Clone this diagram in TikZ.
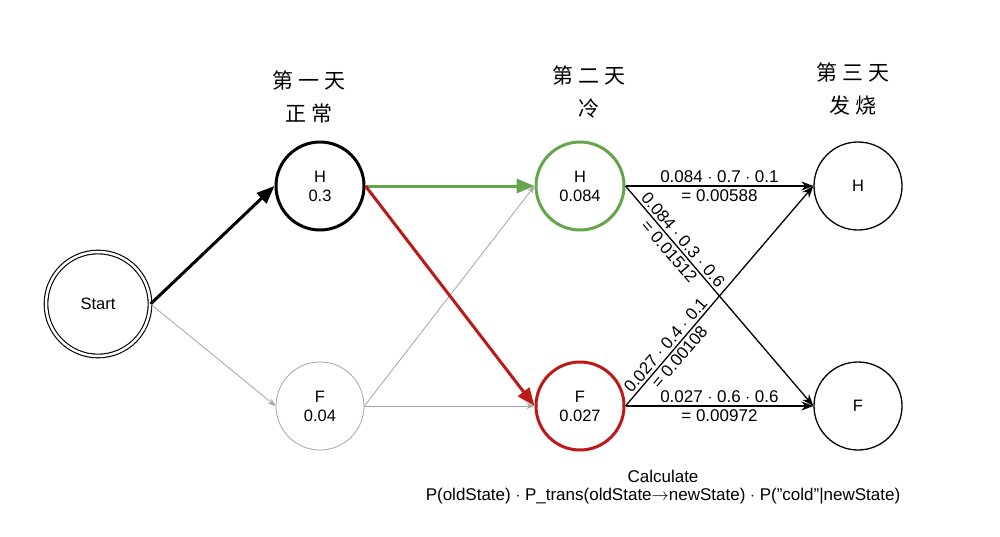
\documentclass[tikz,border=0pt]{standalone}
\usepackage{fontspec}
\setmainfont{Liberation Sans}
\newfontfamily\cjk{Noto Sans CJK SC}
\usetikzlibrary{arrows.meta}
\definecolor{hgreen}{RGB}{100,165,75}
\definecolor{hred}{RGB}{190,25,25}
\definecolor{lgray}{RGB}{165,165,165}
\tikzset{
  st/.style={circle, minimum size=88pt, inner sep=0pt, align=center, font=\fontsize{16.5}{19}\selectfont},
  head/.style={align=center, font=\cjk\fontsize{21}{33}\selectfont},
  lbl/.style={font=\fontsize{17}{19}\selectfont, inner sep=2.5pt},
  thin/.style={draw=lgray, line width=0.8pt, -{Stealth[length=8pt,width=6pt]}},
  calc/.style={draw=black, line width=1.3pt, -{Stealth[length=12pt,width=9pt]}},
  heavy/.style={line width=3pt, -{Triangle[length=18pt,width=14pt]}}
}
\begin{document}
\begin{tikzpicture}[x=1pt,y=-1pt]
\useasboundingbox[fill=white] (0,0) rectangle (1000,536);
% nodes
\node[st, minimum size=104pt, draw=black, double, double distance=2.5pt, line width=1.1pt] (start) at (98,304) {Start};
\node[st, draw=black, line width=3pt] (h1) at (320,186) {H\\0.3};
\node[st, draw=lgray, line width=0.8pt] (f1) at (320,406) {F\\0.04};
\node[st, draw=hgreen, line width=3pt] (h2) at (580,186) {H\\0.084};
\node[st, draw=hred, line width=3pt] (f2) at (580,406) {F\\0.027};
\node[st, draw=black, line width=1.3pt] (h3) at (858,186) {H};
\node[st, draw=black, line width=1.3pt] (f3) at (858,406) {F};
% headers
\node[head] (d1) at (309,97) {第 一 天\\正 常};
\node[head] (d2) at (589,92) {第 二 天\\冷};
\node[head] (d3) at (853,89) {第 三 天\\发 烧};
% edges
\draw[heavy, draw=black] (start.east) -- (h1.west);
\draw[thin] (start.east) -- (f1.west);
\draw[thin] (f1.east) -- (h2.west);
\draw[thin] (f1.east) -- (f2.west);
\draw[heavy, draw=hgreen] (h1.east) -- (h2.west);
\draw[heavy, draw=hred] (h1.east) -- (f2.west);
\draw[calc] (h2.east) -- (h3.west)
  node[lbl, midway, above] (l1a) {0.084 $\cdot$ 0.7 $\cdot$ 0.1}
  node[lbl, midway, below] (l1b) {= 0.00588};
\draw[calc] (h2.east) -- (f3.west)
  node[lbl, pos=0.27, sloped, above] (l2a) {0.084 $\cdot$ 0.3 $\cdot$ 0.6}
  node[lbl, pos=0.27, sloped, below] (l2b) {= 0.01512};
\draw[calc] (f2.east) -- (h3.west)
  node[lbl, pos=0.25, sloped, above] (l3a) {0.027 $\cdot$ 0.4 $\cdot$ 0.1}
  node[lbl, pos=0.25, sloped, below] (l3b) {= 0.00108};
\draw[calc] (f2.east) -- (f3.west)
  node[lbl, midway, above] (l4a) {0.027 $\cdot$ 0.6 $\cdot$ 0.6}
  node[lbl, midway, below] (l4b) {= 0.00972};
% bottom caption
\node[align=center, font=\fontsize{17}{18.5}\selectfont] (cap) at (663,487) {Calculate\\P(oldState) $\cdot$ P\_trans(oldState$\rightarrow$newState) $\cdot$ P("cold"|newState)};
\end{tikzpicture}
\end{document}
